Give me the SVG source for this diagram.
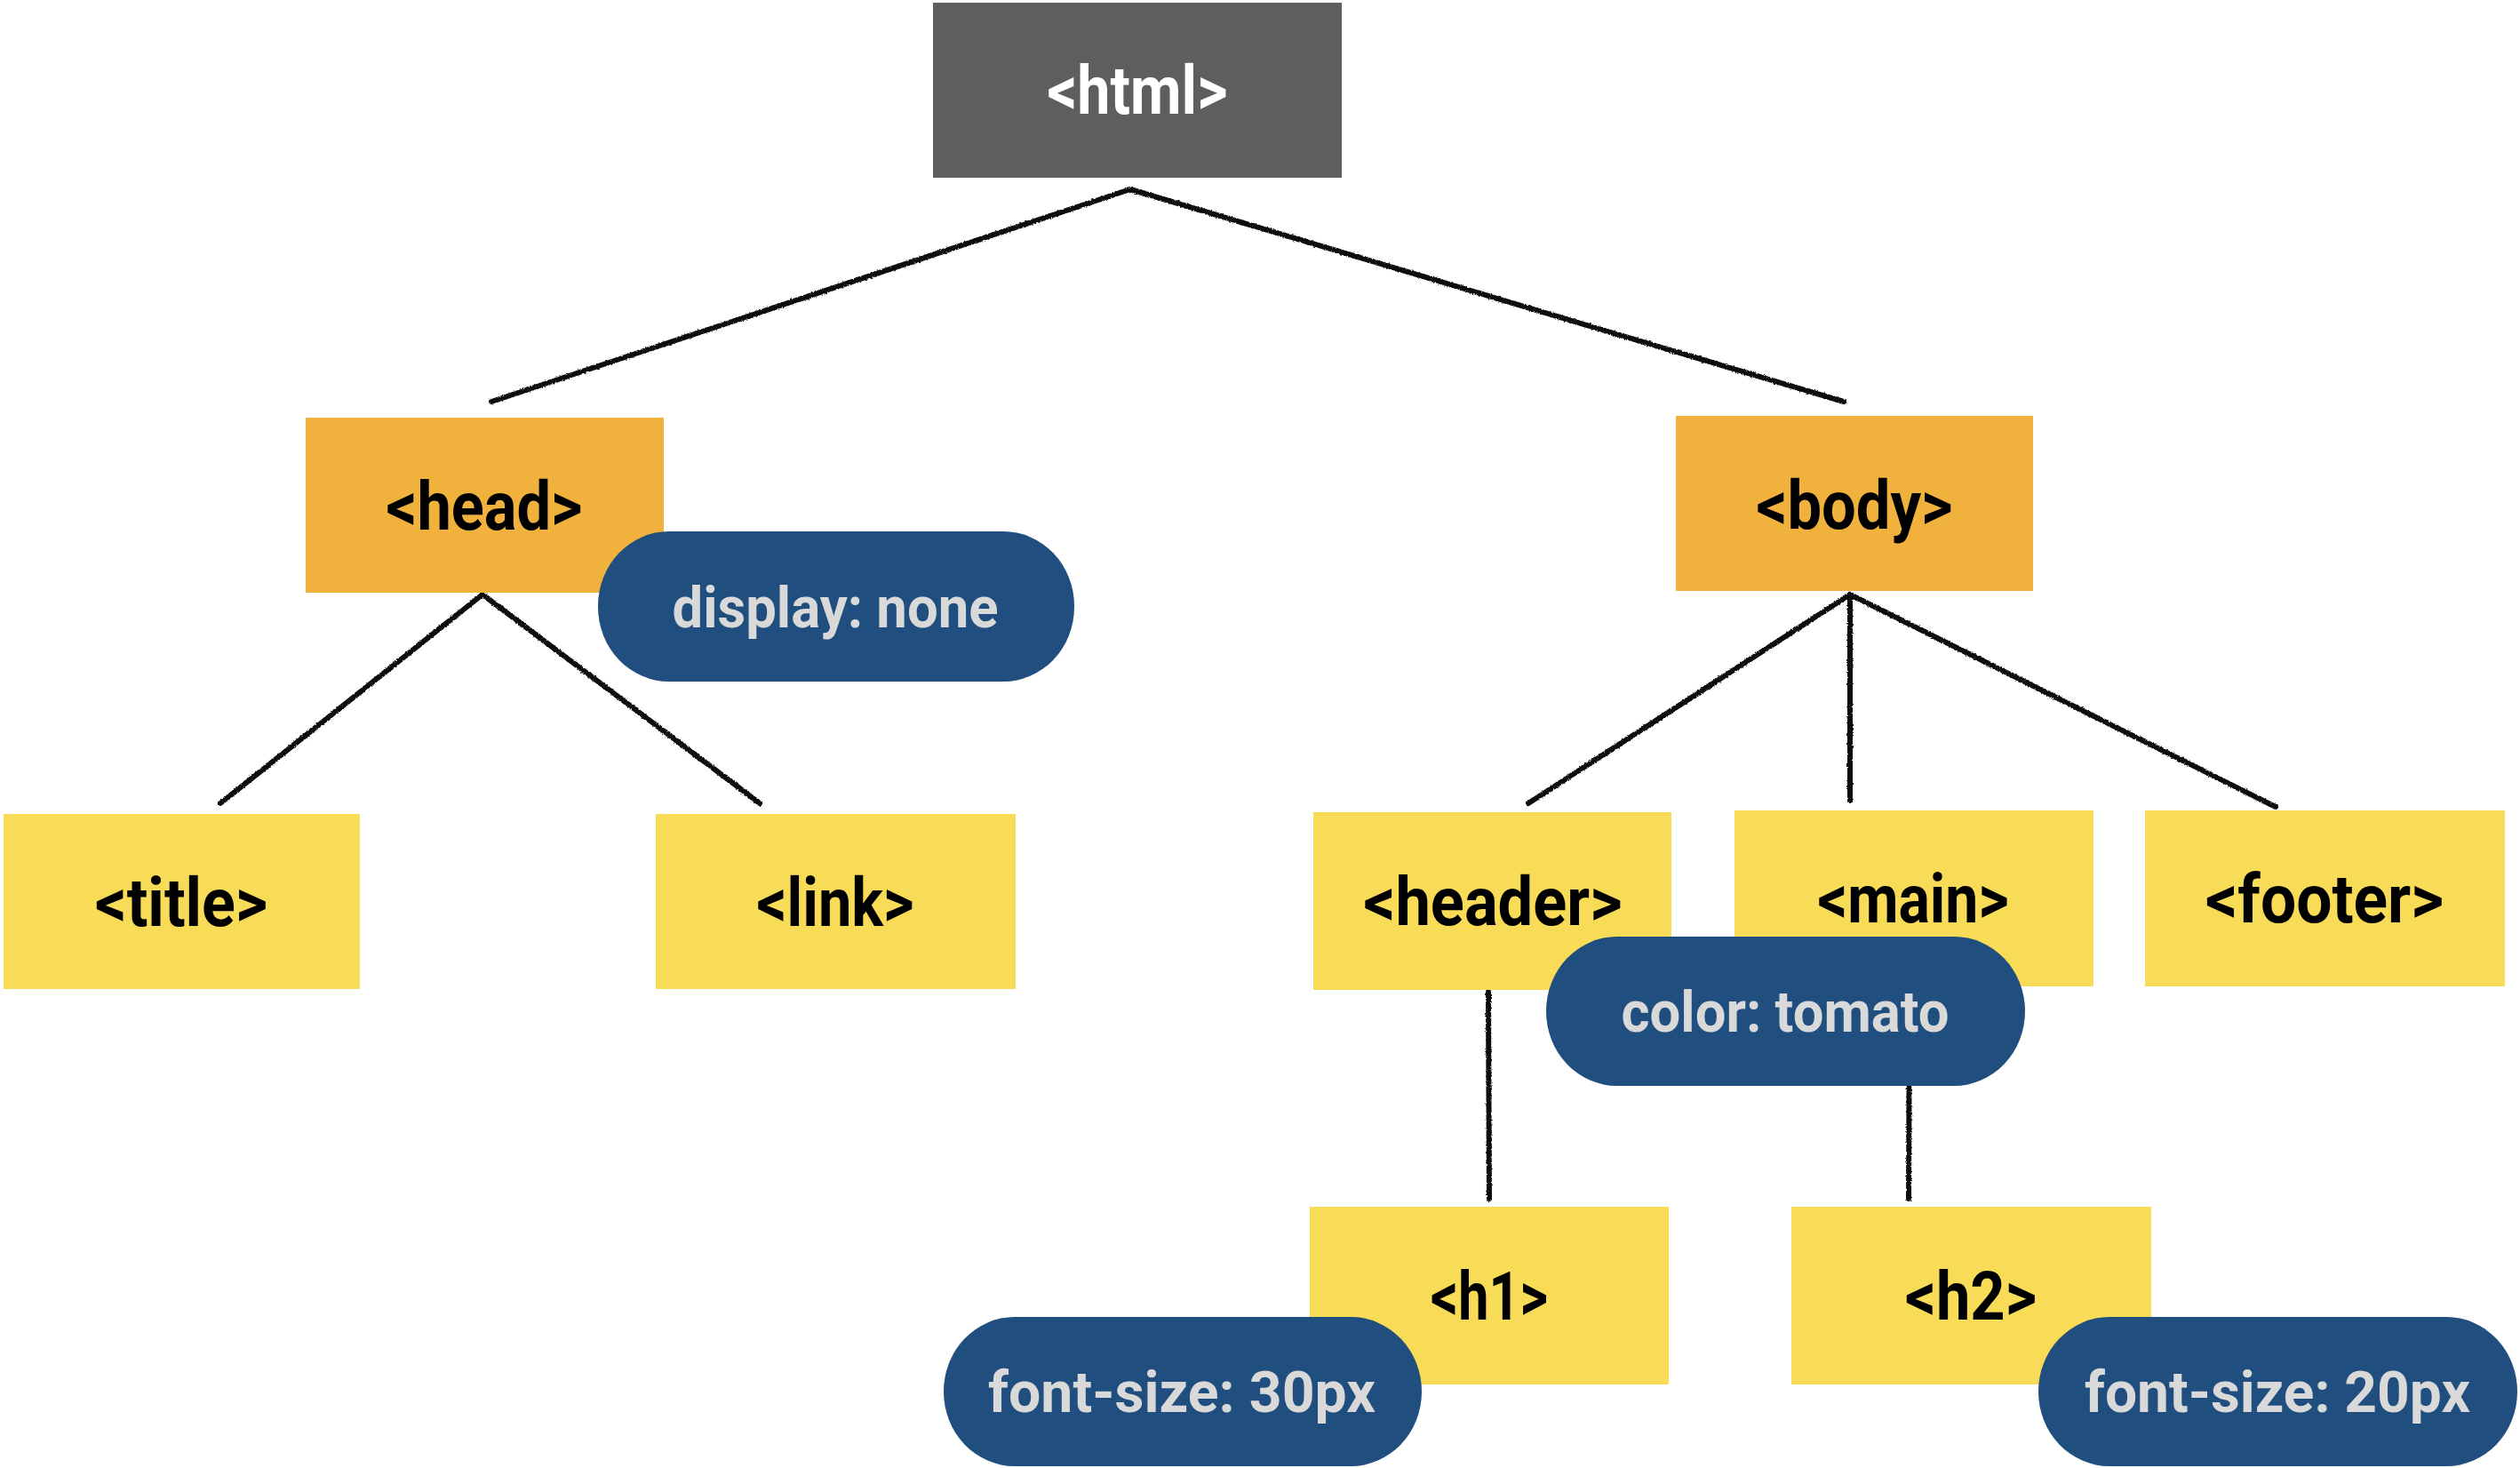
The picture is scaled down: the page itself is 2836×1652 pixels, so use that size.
<svg xmlns="http://www.w3.org/2000/svg" width="2836" height="1652" viewBox="0 0 2836 1652">
<style>
.lbl{font-family:"Liberation Sans Narrow","Roboto","Noto Sans",sans-serif;font-weight:bold;font-size:76px;text-anchor:middle;fill:#000}
.pill{fill:#204E7E}
.ptxt{font-family:"Liberation Sans Narrow","Roboto","Noto Sans",sans-serif;font-weight:bold;font-size:64px;text-anchor:middle;fill:#D9D9D9}
.root{fill:#5E5E5E}
.mid{fill:#F1B13D}
.leaf{fill:#F8DB57}
.edge{stroke:#111;stroke-width:6;fill:none;stroke-linecap:round;filter:url(#rough)}
</style>
<defs>
<filter id="rough" filterUnits="userSpaceOnUse" x="0" y="0" width="2836" height="1652">
<feTurbulence type="fractalNoise" baseFrequency="0.6" numOctaves="2" seed="3" result="n"/>
<feDisplacementMap in="SourceGraphic" in2="n" scale="3" xChannelSelector="R" yChannelSelector="G"/>
</filter>
</defs>
<rect width="2836" height="1652" fill="#fff"/>
<g id="connectors">
<path class="edge" d="M1272 213 L553 452"/>
<path class="edge" d="M1272 213 L2075 452"/>
<path class="edge" d="M543 669 L248 904"/>
<path class="edge" d="M543 669 L855 904"/>
<path class="edge" d="M2082 669 L1720 904"/>
<path class="edge" d="M2082 669 L2082 901"/>
<path class="edge" d="M2082 669 L2561 908"/>
<path class="edge" d="M1675 1116 L1676 1349"/>
<path class="edge" d="M2149 1110 L2148 1349"/>
</g>
<g id="node-html"><rect class="root" x="1050" y="3" width="460" height="197"/><text class="lbl" x="1280" y="128" style="fill:#fff" textLength="203" lengthAdjust="spacingAndGlyphs">&lt;html&gt;</text></g>
<g id="node-head"><rect class="mid" x="344" y="470" width="403" height="197"/><text class="lbl" x="545" y="596" textLength="221" lengthAdjust="spacingAndGlyphs">&lt;head&gt;</text></g>
<g id="node-body"><rect class="mid" x="1886" y="468" width="402" height="197"/><text class="lbl" x="2087" y="595" textLength="221" lengthAdjust="spacingAndGlyphs">&lt;body&gt;</text></g>
<g id="node-title"><rect class="leaf" x="4" y="916" width="401" height="197"/><text class="lbl" x="204" y="1042" textLength="194" lengthAdjust="spacingAndGlyphs">&lt;title&gt;</text></g>
<g id="node-link"><rect class="leaf" x="738" y="916" width="405" height="197"/><text class="lbl" x="940" y="1042" textLength="177" lengthAdjust="spacingAndGlyphs">&lt;link&gt;</text></g>
<g id="node-header"><rect class="leaf" x="1478" y="914" width="403" height="200"/><text class="lbl" x="1680" y="1041" textLength="291" lengthAdjust="spacingAndGlyphs">&lt;header&gt;</text></g>
<g id="node-main"><rect class="leaf" x="1952" y="912" width="404" height="198"/><text class="lbl" x="2153" y="1038" textLength="215" lengthAdjust="spacingAndGlyphs">&lt;main&gt;</text></g>
<g id="node-footer"><rect class="leaf" x="2414" y="912" width="405" height="198"/><text class="lbl" x="2616" y="1038" textLength="268" lengthAdjust="spacingAndGlyphs">&lt;footer&gt;</text></g>
<g id="node-h1"><rect class="leaf" x="1474" y="1358" width="404" height="200"/><text class="lbl" x="1676" y="1485" textLength="132" lengthAdjust="spacingAndGlyphs">&lt;h1&gt;</text></g>
<g id="node-h2"><rect class="leaf" x="2016" y="1358" width="405" height="200"/><text class="lbl" x="2218" y="1485" textLength="148" lengthAdjust="spacingAndGlyphs">&lt;h2&gt;</text></g>
<g id="style-display"><rect class="pill" x="673" y="598" width="536" height="169" rx="80" ry="84"/><text class="ptxt" x="940" y="706" textLength="367" lengthAdjust="spacingAndGlyphs">display: none</text></g>
<g id="style-color"><rect class="pill" x="1740" y="1054" width="539" height="168" rx="80" ry="84"/><text class="ptxt" x="2009" y="1161" textLength="369" lengthAdjust="spacingAndGlyphs">color: tomato</text></g>
<g id="style-fs30"><rect class="pill" x="1062" y="1482" width="538" height="168" rx="80" ry="84"/><text class="ptxt" x="1330" y="1589" textLength="436" lengthAdjust="spacingAndGlyphs">font-size: 30px</text></g>
<g id="style-fs20"><rect class="pill" x="2294" y="1482" width="539" height="168" rx="80" ry="84"/><text class="ptxt" x="2563" y="1589" textLength="434" lengthAdjust="spacingAndGlyphs">font-size: 20px</text></g>
</svg>
